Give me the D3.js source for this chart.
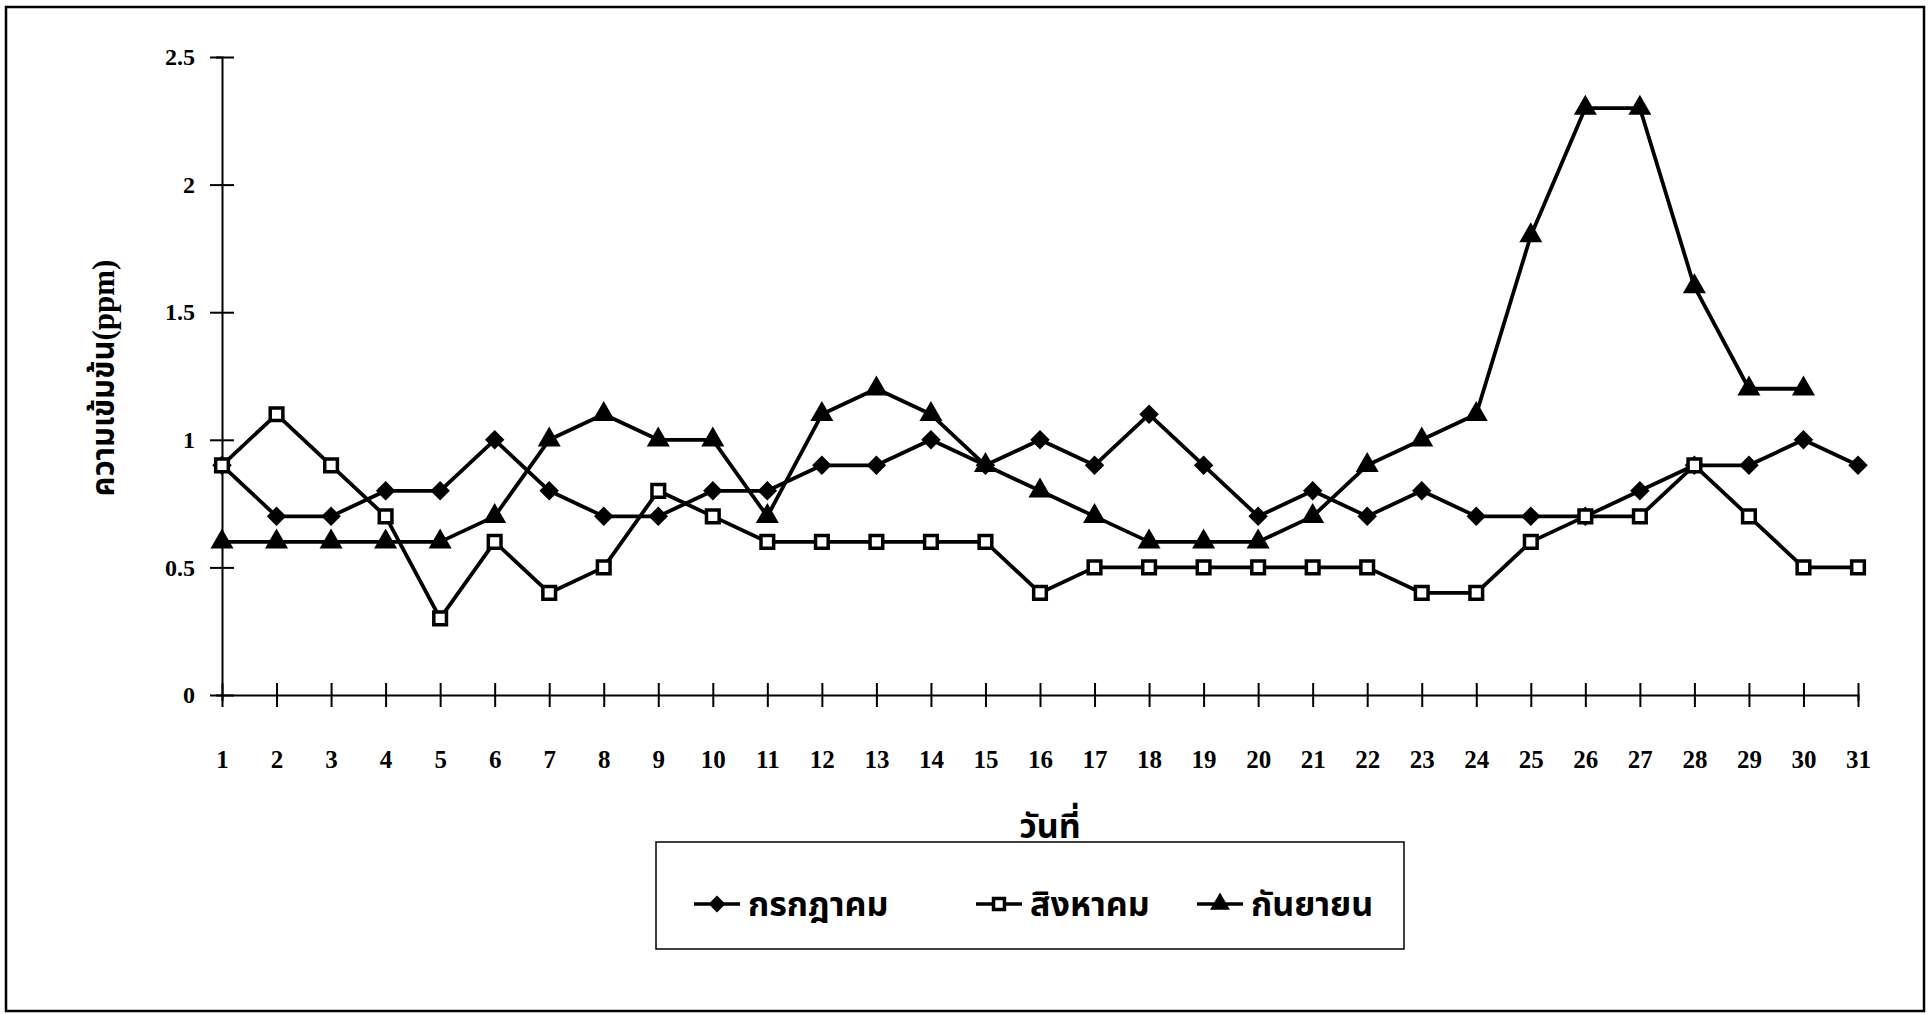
<!DOCTYPE html>
<html>
<head>
<meta charset="utf-8">
<script src="https://cdn.jsdelivr.net/npm/d3@7"></script>
<style>
  html, body { margin: 0; padding: 0; background: #fff; }
  svg { display: block; }
  .num { font-family: "Liberation Serif", "Times New Roman", serif; font-weight: bold; }
  .thai { font-family: "Liberation Serif", "Noto Sans Thai", serif; font-weight: bold; }
</style>
</head>
<body>
<svg id="chart" width="1932" height="1014"></svg>
<script>
// days on x axis
var days = d3.range(1, 32);

// concentrations (ppm)
var july = [0.9, 0.7, 0.7, 0.8, 0.8, 1.0, 0.8, 0.7, 0.7, 0.8, 0.8, 0.9, 0.9, 1.0, 0.9, 1.0,
            0.9, 1.1, 0.9, 0.7, 0.8, 0.7, 0.8, 0.7, 0.7, 0.7, 0.8, 0.9, 0.9, 1.0, 0.9];
var august = [0.9, 1.1, 0.9, 0.7, 0.3, 0.6, 0.4, 0.5, 0.8, 0.7, 0.6, 0.6, 0.6, 0.6, 0.6, 0.4,
              0.5, 0.5, 0.5, 0.5, 0.5, 0.5, 0.4, 0.4, 0.6, 0.7, 0.7, 0.9, 0.7, 0.5, 0.5];
var september = [0.6, 0.6, 0.6, 0.6, 0.6, 0.7, 1.0, 1.1, 1.0, 1.0, 0.7, 1.1, 1.2, 1.1, 0.9,
                 0.8, 0.7, 0.6, 0.6, 0.6, 0.7, 0.9, 1.0, 1.1, 1.8, 2.3, 2.3, 1.6, 1.2, 1.2];

var seriesNames = ["กรกฎาคม", "สิงหาคม", "กันยายน"];
var yTicks = [0, 0.5, 1, 1.5, 2, 2.5];
var xTitle = "วันที่";
var yTitle = "ความเข้มข้น(ppm)";

var svg = d3.select("#chart");

// outer frame
svg.append("rect")
    .attr("x", 6).attr("y", 7)
    .attr("width", 1918).attr("height", 1004)
    .attr("fill", "none").attr("stroke", "#000").attr("stroke-width", 2.5);

var x = d3.scaleLinear().domain([1, 31]).range([222, 1858]);
var y = d3.scaleLinear().domain([0, 2.5]).range([695, 57]);

// y axis
var yAxis = svg.append("g")
    .attr("transform", "translate(" + x(1) + ",0)")
    .call(d3.axisLeft(y).tickValues(yTicks).tickFormat(function (d) { return String(d); }));
yAxis.select(".domain").attr("stroke-width", 2);
yAxis.selectAll(".tick line").attr("x1", -12).attr("x2", 12).attr("stroke-width", 2);
yAxis.selectAll(".tick text")
    .attr("class", "num").attr("x", -27)
    .style("font-size", "24px").attr("fill", "#000");

// x axis
var xAxis = svg.append("g")
    .attr("transform", "translate(0," + y(0) + ")")
    .call(d3.axisBottom(x).tickValues(days).tickFormat(function (d) { return String(d); }));
xAxis.select(".domain").attr("stroke-width", 2);
xAxis.selectAll(".tick line").attr("y1", -12).attr("y2", 12).attr("stroke-width", 2);
xAxis.selectAll(".tick text")
    .attr("class", "num").attr("y", 55)
    .style("font-size", "25px").attr("fill", "#000");
svg.selectAll(".domain").attr("stroke", "#000");

// axis titles
svg.append("text")
    .attr("class", "thai")
    .attr("x", 1050).attr("y", 838)
    .attr("text-anchor", "middle")
    .style("font-size", "34px")
    .text(xTitle);

svg.append("text")
    .attr("class", "thai")
    .attr("transform", "translate(114,378) rotate(-90)")
    .attr("text-anchor", "middle")
    .style("font-size", "31px")
    .text(yTitle);

// series
var marker = {
    diamond: function (g, k) {
        g.append("path").attr("d", d3.symbol(d3.symbolSquare, 190 * k)())
            .attr("transform", "rotate(45)").attr("fill", "#000");
    },
    square: function (g, k) {
        g.append("path").attr("d", d3.symbol(d3.symbolSquare, 160 * k)())
            .attr("fill", "#fff").attr("stroke", "#000").attr("stroke-width", 3.5);
    },
    triangle: function (g, k) {
        g.append("path").attr("d", d3.symbol(d3.symbolTriangle, 230 * k)())
            .attr("fill", "#000");
    }
};

var series = [
    { name: seriesNames[0], values: july, mark: "diamond" },
    { name: seriesNames[1], values: august, mark: "square" },
    { name: seriesNames[2], values: september, mark: "triangle" }
];

var line = d3.line()
    .x(function (d, i) { return x(days[i]); })
    .y(function (d) { return y(d); });

series.forEach(function (s) {
    svg.append("path")
        .datum(s.values)
        .attr("d", line)
        .attr("fill", "none")
        .attr("stroke", "#000")
        .attr("stroke-width", 3.8)
        .attr("stroke-linejoin", "round");
});

series.forEach(function (s) {
    svg.append("g").selectAll("g")
        .data(s.values)
        .enter()
        .append("g")
        .attr("transform", function (d, i) { return "translate(" + x(days[i]) + "," + y(d) + ")"; })
        .each(function () { marker[s.mark](d3.select(this), 1); });
});

// legend
var legend = svg.append("g");
legend.append("rect")
    .attr("x", 656).attr("y", 842)
    .attr("width", 748).attr("height", 107)
    .attr("fill", "#fff").attr("stroke", "#000").attr("stroke-width", 1.5);

var legendX = [694, 976, 1197];
series.forEach(function (s, i) {
    var g = legend.append("g").attr("transform", "translate(" + legendX[i] + ",904)");
    g.append("line").attr("x1", 0).attr("x2", 46)
        .attr("stroke", "#000").attr("stroke-width", 3.5);
    var m = g.append("g").attr("transform", "translate(23,0)");
    marker[s.mark](m, 0.75);
    g.append("text")
        .attr("class", "thai")
        .attr("x", 54).attr("y", 0).attr("dy", "0.35em")
        .style("font-size", "34px")
        .text(s.name);
});
</script>
</body>
</html>
